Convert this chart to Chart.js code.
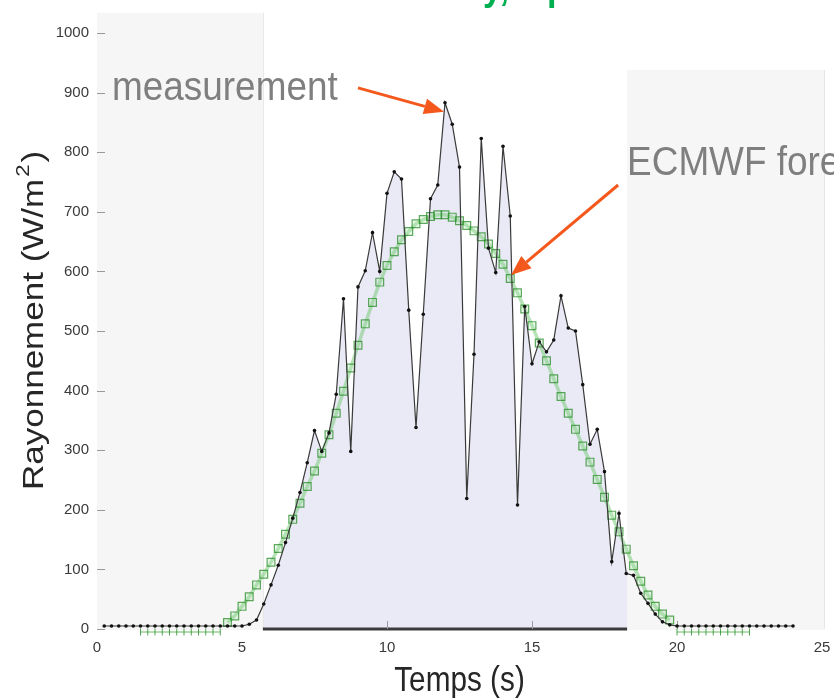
<!DOCTYPE html>
<html>
<head>
<meta charset="utf-8">
<script src="https://cdn.jsdelivr.net/npm/chart.js@4.4.0/dist/chart.umd.min.js"></script>
<style>
  body { margin: 0; background: #fff; }
  #box { width: 834px; height: 700px; }
</style>
</head>
<body>
<div id="box"><canvas id="myChart"></canvas></div>
<script>
const FONT = "'Liberation Sans', Arial, sans-serif";

// measurement: one value every 0.25 h, from 0.25 to 24
const measureStart = 0.25;
const measureStep = 0.25;
const measureValues = [
    5, 5, 5, 5, 5, 5, 5, 5, 5, 5, 5, 5, 5, 5, 5, 5, 5, 5, 5, 5,
    8, 15, 42, 74, 107, 145, 186, 229, 279, 333, 298, 329, 394, 554, 298,
    574, 601, 665, 600, 731, 767, 755, 535, 338, 528, 722, 745, 883, 847, 775, 219,
    461, 823, 639, 598, 810, 693, 208, 541, 445, 482, 465, 485, 559, 505, 500, 410,
    310, 335, 264, 113, 194, 93, 90, 60, 43, 25, 12, 7,
    5, 5, 5, 5, 5, 5, 5, 5, 5, 5, 5, 5, 5, 5, 5, 5, 5
];

// ECMWF forecast, daytime part, from 4.5 to 19.75
const forecastStart = 4.5;
const forecastValues = [
    11, 22, 38, 54, 74, 92, 112, 135, 159, 184, 211, 239, 265, 295, 326, 362,
    399, 438, 476, 512, 548, 582, 610, 633, 653, 667, 680, 687, 692, 695, 695, 691,
    685, 677, 668, 658, 646, 630, 612, 588, 564, 537, 509, 480, 450, 420, 390, 362,
    335, 307, 280, 251, 221, 191, 163, 134, 106, 80, 57, 38, 25, 15
];

// forecast at night (flat marks under the axis)
const nightTimesMorning = [1.5, 1.75, 2, 2.25, 2.5, 2.75, 3, 3.25, 3.5, 3.75, 4, 4.25];
const nightTimesEvening = [20, 20.25, 20.5, 20.75, 21, 21.25, 21.5, 21.75, 22, 22.25, 22.5];
const nightValue = -5;

const xTicks = [0, 5, 10, 15, 20, 25];
const yTicks = [0, 100, 200, 300, 400, 500, 600, 700, 800, 900, 1000];

// shaded night boxes [x from, x to, y top]
const nightBoxes = [[0, 5.72, 1034], [18.28, 25.07, 938]];

function measurePoints () {
    return measureValues.map((v, i) => ({ x: measureStart + i * measureStep, y: v }));
}

function forecastPoints () {
    return forecastValues.map((v, i) => ({ x: forecastStart + i * measureStep, y: v }));
}

function nightPoints () {
    const pts = nightTimesMorning.map(t => ({ x: t, y: nightValue }));
    pts.push({ x: 12, y: null });
    nightTimesEvening.forEach(t => pts.push({ x: t, y: nightValue }));
    return pts;
}

const background = {
    id: 'background',
    beforeDatasetsDraw (chart) {
        const ctx = chart.ctx;
        const xs = chart.scales.x;
        const ys = chart.scales.y;
        const y0 = ys.getPixelForValue(0);
        ctx.save();
        nightBoxes.forEach(b => {
            const x1 = xs.getPixelForValue(b[0]);
            const x2 = xs.getPixelForValue(b[1]);
            const top = ys.getPixelForValue(b[2]);
            ctx.fillStyle = '#f6f6f6';
            ctx.fillRect(x1, top, x2 - x1, y0 - top + 1);
            ctx.strokeStyle = '#e6e6e6';
            ctx.lineWidth = 1;
            ctx.beginPath();
            ctx.moveTo(x2 + 0.5, top);
            ctx.lineTo(x2 + 0.5, y0);
            ctx.stroke();
        });
        // dark axis line between the boxes
        ctx.strokeStyle = '#3c3c3c';
        ctx.lineWidth = 3;
        ctx.beginPath();
        ctx.moveTo(xs.getPixelForValue(nightBoxes[0][1]), y0);
        ctx.lineTo(xs.getPixelForValue(nightBoxes[1][0]), y0);
        ctx.stroke();
        // ticks pointing inside
        ctx.strokeStyle = '#9a9a9a';
        ctx.lineWidth = 1;
        yTicks.forEach(v => {
            const p = Math.round(ys.getPixelForValue(v)) + 0.5;
            ctx.beginPath();
            ctx.moveTo(xs.left, p);
            ctx.lineTo(xs.left + 8, p);
            ctx.stroke();
        });
        [10, 15, 20].forEach(v => {
            const p = Math.round(xs.getPixelForValue(v)) + 0.5;
            ctx.beginPath();
            ctx.moveTo(p, y0);
            ctx.lineTo(p, y0 - 8);
            ctx.stroke();
        });
        ctx.restore();
    }
};

function arrow (ctx, x1, y1, x2, y2) {
    const ang = Math.atan2(y2 - y1, x2 - x1);
    const len = 20, half = 8;
    const bx = x2 - len * Math.cos(ang);
    const by = y2 - len * Math.sin(ang);
    ctx.beginPath();
    ctx.moveTo(x1, y1);
    ctx.lineTo(bx, by);
    ctx.stroke();
    ctx.beginPath();
    ctx.moveTo(x2, y2);
    ctx.lineTo(bx + half * Math.sin(ang), by - half * Math.cos(ang));
    ctx.lineTo(bx - half * Math.sin(ang), by + half * Math.cos(ang));
    ctx.closePath();
    ctx.fill();
}

// text a bit narrower than the font, like the picture
function narrowText (ctx, txt, x, y, squeeze, align) {
    ctx.save();
    ctx.translate(x, y);
    ctx.scale(squeeze, 1);
    ctx.textAlign = align;
    ctx.fillText(txt, 0, 0);
    ctx.restore();
}

const texts = {
    id: 'texts',
    afterDraw (chart) {
        const ctx = chart.ctx;
        const xs = chart.scales.x;
        const ys = chart.scales.y;
        const px = v => xs.getPixelForValue(v);
        const py = v => ys.getPixelForValue(v);
        ctx.save();
        ctx.textBaseline = 'alphabetic';

        // title, mostly cut off at the top
        ctx.fillStyle = '#00b050';
        ctx.font = 'bold 38px ' + FONT;
        const lead = ctx.measureText('Variable da').width * 0.9;
        narrowText(ctx, 'Variable day, a poor forecast', 483 - lead, 0, 0.9, 'left');

        // axis titles
        ctx.fillStyle = '#262626';
        ctx.font = '35px ' + FONT;
        narrowText(ctx, 'Temps (s)', (xs.left + xs.right) / 2, 691, 0.85, 'center');

        ctx.save();
        ctx.translate(43, 490);
        ctx.rotate(-Math.PI / 2);
        ctx.scale(1, 0.85);
        ctx.textAlign = 'left';
        const part1 = 'Rayonnement (W/m';
        ctx.fillText(part1, 0, 0);
        let w = ctx.measureText(part1).width;
        ctx.font = '22px ' + FONT;
        ctx.fillText('2', w + 2, -17);
        w += ctx.measureText('2').width + 4;
        ctx.font = '35px ' + FONT;
        ctx.fillText(')', w, 0);
        ctx.restore();

        // annotations
        ctx.fillStyle = '#7f7f7f';
        ctx.font = '41px ' + FONT;
        narrowText(ctx, 'measurement', px(0.52), py(888), 0.9, 'left');
        narrowText(ctx, 'ECMWF forecast', px(18.28), py(762), 0.9, 'left');

        ctx.strokeStyle = '#f4581c';
        ctx.fillStyle = '#f4581c';
        ctx.lineWidth = 3;
        arrow(ctx, px(9.0), py(908), px(11.97), py(868));
        arrow(ctx, px(17.97), py(745), px(14.28), py(594));
        ctx.restore();
    }
};

function criarGrafico () {
    const ctx = document.getElementById('myChart');

    new Chart(ctx, {
        type: 'line',
        data: {
            datasets: [{
                label: 'measurement',
                data: measurePoints(),
                borderColor: '#3a3a3a',
                borderWidth: 1.2,
                pointRadius: 1.8,
                pointBackgroundColor: '#111',
                pointBorderWidth: 0,
                fill: 'origin',
                backgroundColor: '#eaeaf6',
                order: 0
            }, {
                label: 'ECMWF forecast',
                data: forecastPoints(),
                borderColor: 'rgba(110, 200, 110, 0.5)',
                borderWidth: 3.5,
                pointStyle: 'rect',
                pointRadius: 5.5,
                pointBorderColor: 'rgba(40, 140, 40, 0.75)',
                pointBorderWidth: 1.2,
                pointBackgroundColor: 'rgba(160, 225, 160, 0.2)',
                fill: false,
                order: 1
            }, {
                label: 'forecast night',
                data: nightPoints(),
                borderColor: 'rgba(60, 170, 60, 0.8)',
                borderWidth: 1.2,
                pointStyle: 'line',
                rotation: 90,
                pointRadius: 3.5,
                pointBorderColor: 'rgba(40, 140, 40, 0.8)',
                pointBorderWidth: 1,
                spanGaps: false,
                fill: false,
                clip: false,
                order: 2
            }]
        },
        options: {
            responsive: true,
            maintainAspectRatio: false,
            animation: false,
            layout: { padding: { left: 0, right: 12, top: 33, bottom: 0 } },
            plugins: {
                legend: { display: false },
                tooltip: { enabled: false },
                filler: { drawTime: 'beforeDatasetsDraw' }
            },
            scales: {
                x: {
                    type: 'linear',
                    min: 0,
                    max: 25,
                    afterBuildTicks: s => { s.ticks = xTicks.map(v => ({ value: v })); },
                    afterFit: s => { s.height = 71; s.paddingLeft = 0; s.paddingRight = 0; },
                    grid: { display: false, drawTicks: false },
                    border: { display: false },
                    ticks: {
                        padding: 10,
                        color: '#3a3a3a',
                        font: { family: FONT, size: 15 },
                        callback: v => String(v)
                    }
                },
                y: {
                    min: 0,
                    max: 1000,
                    afterBuildTicks: s => { s.ticks = yTicks.map(v => ({ value: v })); },
                    afterFit: s => { s.width = 97; },
                    grid: { display: false, drawTicks: false },
                    border: { display: false },
                    ticks: {
                        padding: 8,
                        color: '#3a3a3a',
                        font: { family: FONT, size: 15 },
                        callback: v => String(v)
                    }
                }
            }
        },
        plugins: [background, texts]
    });
}

criarGrafico();
</script>
</body>
</html>
